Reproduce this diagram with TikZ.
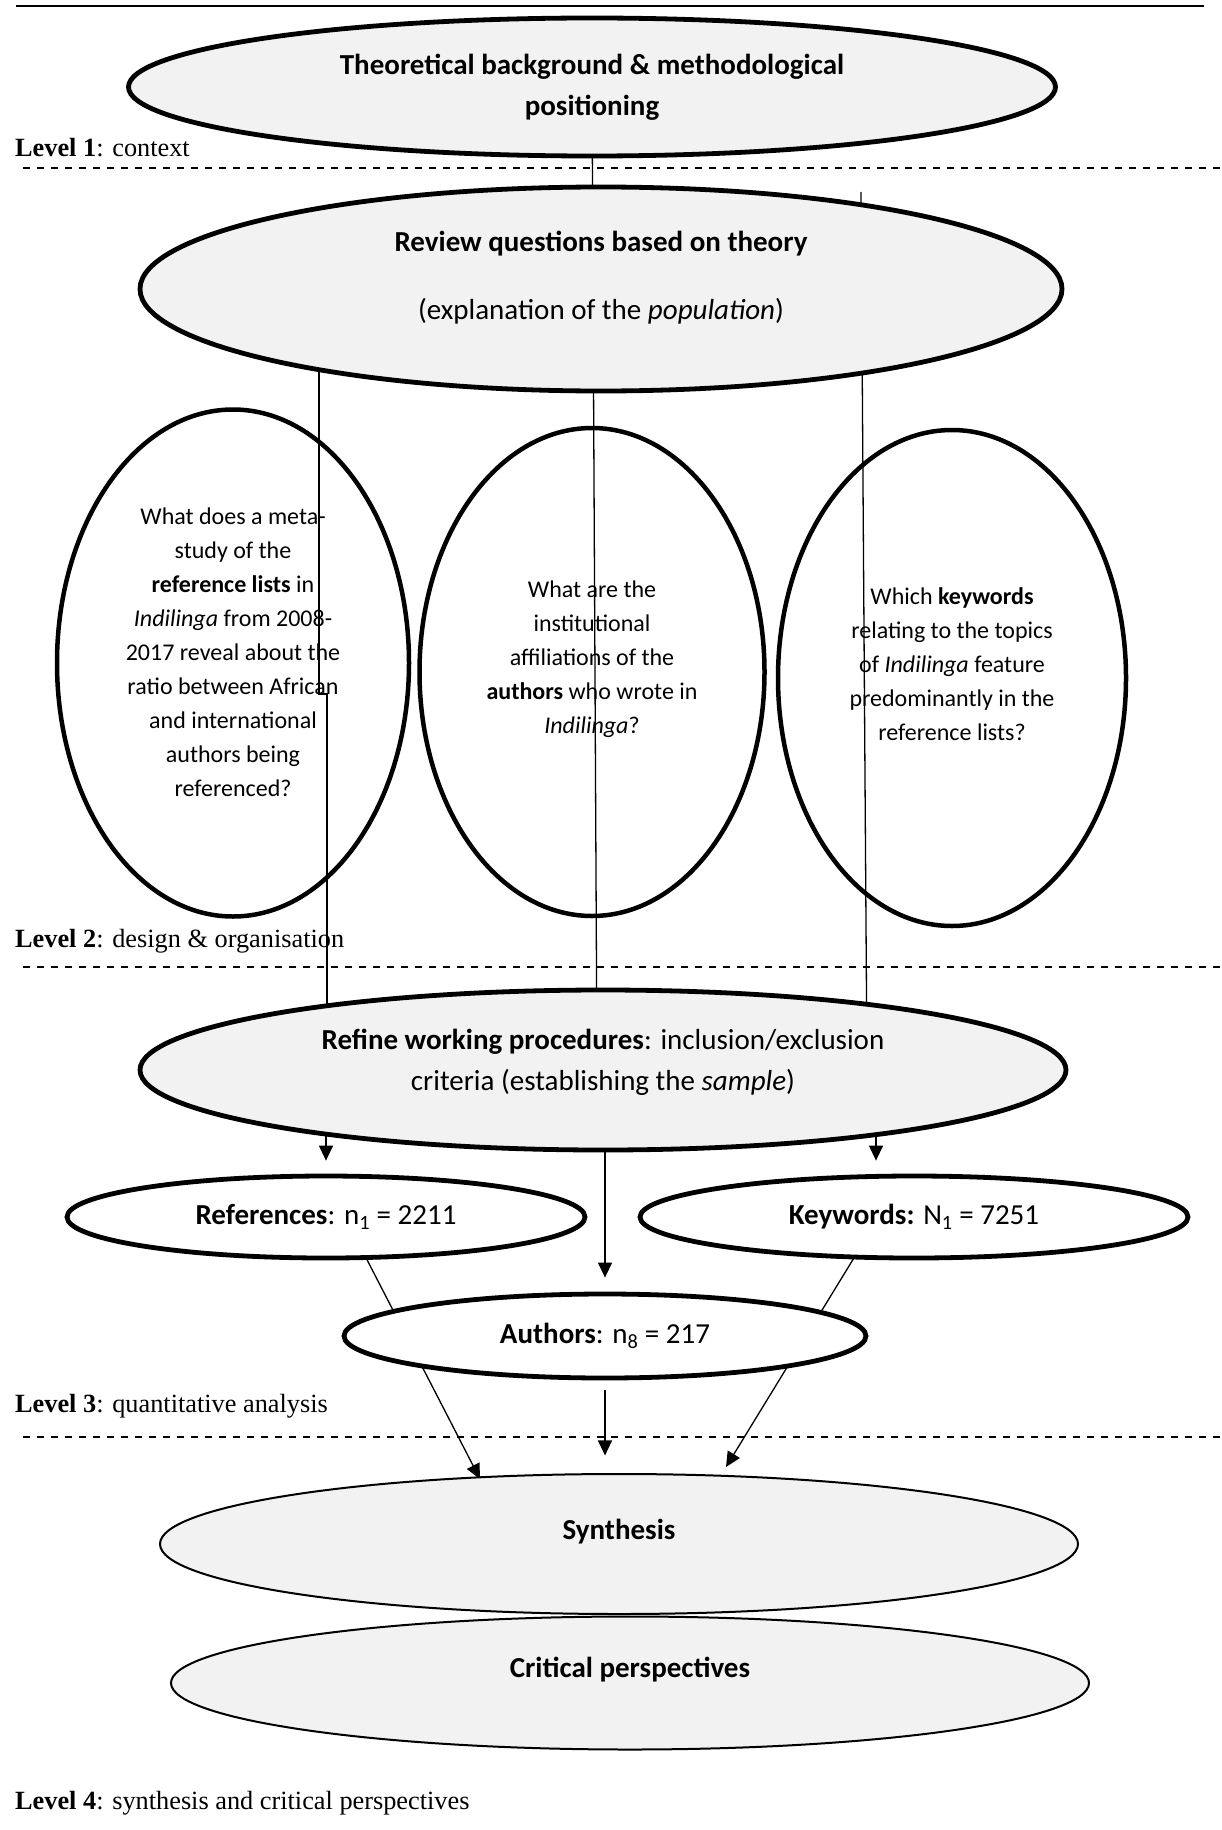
\documentclass[tikz,border=0pt]{standalone}
\usepackage{fontspec}
\setmainfont{Liberation Serif}
\newfontfamily\calib{Carlito}
\usetikzlibrary{shapes.geometric}
\usetikzlibrary{arrows.meta}
\usetikzlibrary{backgrounds}
\definecolor{shade}{HTML}{F2F2F2}

\begin{document}
\begin{tikzpicture}[
		x=1pt, y=-1pt,
		bigell/.style={ellipse,draw,line width=4.8pt,fill=shade,inner sep=0pt,align=center,font=\calib\fontsize{29}{41}\selectfont},
		qell/.style={ellipse,draw,line width=4.5pt,inner sep=0pt},
		nell/.style={ellipse,draw,line width=4.8pt,fill=white,inner sep=0pt,font=\calib\fontsize{29}{35}\selectfont},
		thinell/.style={ellipse,draw,line width=2pt,fill=shade,inner sep=0pt},
		headtxt/.style={align=center,inner sep=0pt,font=\calib\fontsize{29}{41}\selectfont},
		qtxt/.style={align=center,inner sep=0pt,font=\calib\fontsize{24}{34}\selectfont},
		lvl/.style={anchor=base west,inner sep=0pt,font=\fontsize{26.3}{30}\selectfont},
		sep/.style={line width=2pt,dash pattern=on 7pt off 7pt},
		link/.style={line width=1.3pt},
		arr/.style={link,-{Triangle[length=15pt,width=14pt]}}
		]
		\useasboundingbox (0,0) rectangle (1222,1830);
		\draw[line width=2.5pt] (16,6) -- (1204,6);
		\foreach \y in {168,967,1437}
			\draw[sep] (23,\y) -- (1222,\y);

		\node[bigell,minimum width=927pt,minimum height=138pt] (theory) at (592,87)
			{\textbf{Theoretical background \& methodological}\\\textbf{positioning}};
		\node[lvl] (lvl1) at (15,157) {\textbf{Level 1}: context};

		\node[bigell,minimum width=922pt,minimum height=204pt,
			label={[headtxt,yshift=11pt]center:{\textbf{Review questions based on theory}\\[27pt](explanation of the \textit{population})}}] (review) at (601,289) {};

		\node[qell,minimum width=352pt,minimum height=507pt,
			label={[qtxt,yshift=11pt]center:{What does a meta-\\study of the\\\textbf{reference lists} in\\\textit{Indilinga} from 2008-\\2017 reveal about the\\ratio between African\\and international\\authors being\\referenced?}}] (q1) at (233,663) {};
		\node[qell,minimum width=345pt,minimum height=488pt,
			label={[qtxt,yshift=13pt]center:{What are the\\institutional\\affiliations of the\\\textbf{authors} who wrote in\\\textit{Indilinga}?}}] (q2) at (592,672) {};
		\node[qell,minimum width=348pt,minimum height=496pt,
			label={[qtxt,yshift=14pt]center:{Which \textbf{keywords}\\relating to the topics\\of \textit{Indilinga} feature\\predominantly in the\\reference lists?}}] (q3) at (952,678) {};
		\node[lvl] (lvl2) at (15,947) {\textbf{Level 2}: design \& organisation};

		\node[bigell,minimum width=926pt,minimum height=160pt,
			label={[headtxt,yshift=8pt]center:{\textbf{Refine working procedures}: inclusion/exclusion\\criteria (establishing the \textit{sample})}}] (refine) at (603,1070) {};

		\node[nell,minimum width=518pt,minimum height=82pt] (refs) at (326,1217)
			{\textbf{References}: n\textsubscript{1} = 2211};
		\node[nell,minimum width=548pt,minimum height=82pt] (keys) at (914,1217)
			{\textbf{Keywords:} N\textsubscript{1} = 7251};
		\node[nell,minimum width=522pt,minimum height=84pt] (auth) at (605,1336)
			{\textbf{Authors}: n\textsubscript{8} = 217};
		\node[lvl] (lvl3) at (15,1412) {\textbf{Level 3}: quantitative analysis};

		\node[thinell,minimum width=918pt,minimum height=140pt,
			label={[headtxt,yshift=12pt]center:{\textbf{Synthesis}}}] (synth) at (619,1544) {};
		\node[thinell,minimum width=918pt,minimum height=133pt,
			label={[headtxt,yshift=13pt]center:{\textbf{Critical perspectives}}}] (crit) at (630,1683) {};
		\node[lvl] (lvl4) at (15,1809) {\textbf{Level 4}: synthesis and critical perspectives};

		\coordinate (rtop) at (861,192);
		\coordinate (ljog) at (319,694);
		\coordinate (t1) at (480,1479);
		\coordinate (t3) at (726,1467);
		\begin{scope}[on background layer]
			\draw[link] (theory.center) -- ([xshift=5pt]theory.center |- refine.center);
			\draw[link] (rtop) -- ([xshift=6pt]rtop |- refine.center);
			\draw[link] (ljog |- review.center) -- (ljog) -- ++(8,0) -- ([xshift=8pt]ljog |- refine.center);
			\draw[arr] (refs.north |- refine.center) -- ([yshift=13pt]refs.north);
			\draw[arr] ([xshift=-38pt]keys.north |- refine.center) -- ([xshift=-38pt,yshift=13pt]keys.north);
			\draw[arr] (auth.north |- refine.center) -- ([yshift=14pt]auth.north);
			\draw[arr] ([xshift=19pt]refs.center) -- (t1);
			\draw[arr] ([xshift=-35pt]keys.center) -- (t3);
			\draw[arr] ([yshift=-10pt]auth.south) -- ([yshift=-75pt]auth.south);
		\end{scope}
	\end{tikzpicture}
\end{document}
